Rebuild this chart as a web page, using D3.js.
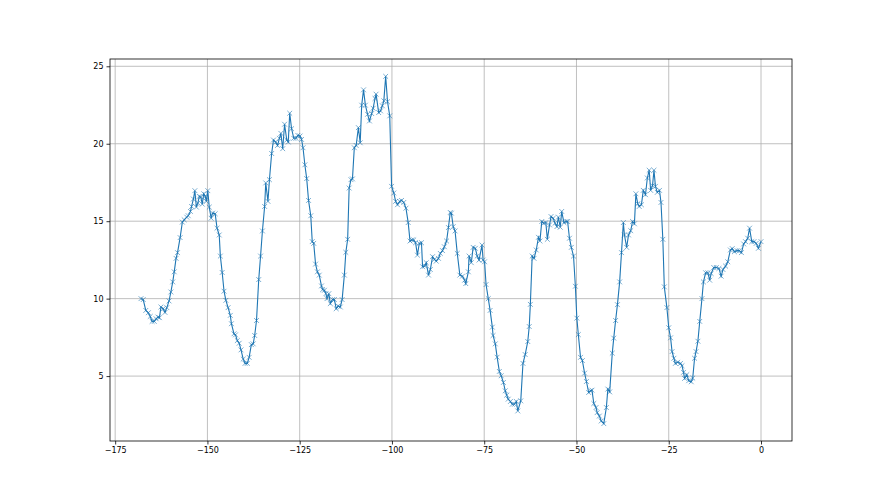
<!DOCTYPE html>
<html>
<head>
<meta charset="utf-8">
<script src="https://cdn.jsdelivr.net/npm/d3@7"></script>
<style>
  body { margin: 0; background: #fff; }
  svg { display: block; }
  .tick text { font-family: "DejaVu Sans", sans-serif; font-size: 8px; fill: #000; }
</style>
</head>
<body>
<svg id="chart" width="880" height="495"></svg>
<script>
// Hours (relative) and values
const xs = [
  -168.0,-167.4,-166.7,-166.0,-165.5,-165.0,-164.4,-163.9,-163.4,-163.0,-162.6,-162.0,-161.5,-161.0,-160.4,-159.9,-159.4,-159.0,-158.5,-158.1,
  -157.4,-156.8,-156.3,-155.6,-155.2,-154.6,-154.3,-153.8,-153.4,-153.0,-152.6,-152.2,-151.8,-151.4,-151.0,-150.6,-150.3,-149.9,-149.5,-149.0,
  -148.6,-147.9,-147.4,-146.8,-146.5,-146.0,-145.5,-145.0,-144.4,-143.8,-143.5,-142.8,-142.4,-141.9,-141.4,-140.9,-140.3,-139.8,-139.2,-138.7,
  -138.1,-137.6,-137.2,-136.7,-136.1,-135.6,-135.1,-134.5,-134.2,-133.6,-133.2,-132.6,-132.1,-131.5,-131.0,-130.5,-130.1,-129.6,-129.1,-128.5,
  -128.1,-127.7,-127.2,-126.6,-126.0,-125.5,-124.9,-124.5,-124.1,-123.6,-123.1,-122.6,-122.0,-121.6,-121.2,-120.7,-120.2,-119.7,-119.1,-118.8,
  -118.3,-117.9,-117.6,-117.1,-116.7,-116.1,-115.6,-115.1,-114.6,-114.0,-113.5,-112.9,-112.5,-112.0,-111.6,-111.1,-110.7,-110.2,-109.7,-109.1,
  -108.6,-108.2,-107.7,-107.2,-106.6,-106.1,-105.5,-105.1,-104.6,-104.3,-103.6,-103.1,-102.6,-102.2,-101.7,-101.2,-100.6,-100.1,-99.5,-99.0,
  -98.5,-97.9,-97.4,-96.8,-96.2,-95.6,-95.1,-94.6,-94.1,-93.6,-93.1,-92.6,-92.0,-91.7,-91.1,-90.7,-90.1,-89.6,-89.0,-88.5,
  -88.0,-87.4,-86.9,-86.3,-85.8,-85.2,-84.7,-84.2,-83.9,-83.4,-82.9,-82.3,-81.6,-80.9,-80.3,-80.0,-79.3,-79.1,-78.5,-78.0,
  -77.4,-76.9,-76.4,-75.6,-75.3,-74.9,-74.5,-73.9,-73.4,-72.8,-72.6,-72.0,-71.5,-70.9,-70.4,-69.8,-69.3,-68.9,-68.5,-67.9,
  -67.4,-66.8,-66.3,-65.9,-65.1,-64.5,-63.9,-63.2,-62.8,-62.5,-62.0,-61.5,-60.9,-60.3,-59.9,-59.4,-58.9,-58.3,-57.9,-57.3,
  -56.9,-56.3,-55.8,-55.3,-54.9,-54.4,-54.0,-53.4,-52.8,-52.4,-51.9,-51.4,-50.8,-50.3,-49.9,-49.5,-48.9,-48.4,-47.8,-47.3,
  -46.7,-46.2,-45.8,-45.3,-44.7,-44.4,-43.8,-43.3,-42.6,-41.9,-41.5,-41.0,-40.3,-39.9,-39.4,-38.9,-38.3,-37.8,-37.3,-37.0,
  -36.4,-35.9,-35.3,-34.8,-34.3,-33.9,-33.4,-33.0,-32.4,-31.9,-31.3,-30.8,-30.3,-29.9,-29.4,-29.0,-28.6,-28.1,-27.5,-27.1,
  -26.6,-26.2,-25.5,-25.0,-24.5,-24.1,-23.6,-23.2,-22.6,-21.8,-21.4,-21.0,-20.7,-20.1,-19.6,-18.9,-18.5,-18.0,-17.6,-17.1,
  -16.6,-16.0,-15.6,-15.0,-14.4,-13.9,-13.5,-12.8,-12.1,-11.4,-10.8,-10.3,-9.6,-9.0,-8.3,-7.8,-7.2,-6.5,-5.9,-5.3,
  -4.7,-4.2,-3.6,-3.1,-2.5,-1.9,-1.3,-0.7,0.0
];
const values = [
  10.00,9.94,9.24,9.09,8.85,8.53,8.53,8.70,8.81,8.77,9.46,9.35,9.11,9.42,9.85,10.43,11.08,11.73,12.60,12.97,
  13.94,14.94,15.09,15.26,15.35,15.63,15.95,16.43,16.97,15.91,16.17,16.60,16.56,16.10,16.77,16.60,16.28,16.97,15.91,15.19,
  15.52,15.48,14.55,14.11,12.75,11.69,10.48,9.89,9.42,8.92,8.38,7.73,7.66,7.29,7.12,6.69,6.10,5.82,5.82,6.21,
  7.03,7.08,7.62,8.59,11.23,12.75,14.37,15.95,17.47,16.28,17.68,19.37,20.24,20.11,19.89,20.35,20.67,19.68,21.26,20.24,
  20.11,21.97,20.97,20.35,20.35,20.54,20.50,20.28,19.74,18.64,17.75,16.34,15.35,13.68,13.57,12.23,11.73,11.52,10.82,10.58,
  10.54,10.32,10.00,10.32,9.68,9.94,9.94,9.35,9.52,9.46,9.94,11.52,12.99,13.83,17.14,17.68,17.73,19.74,19.89,21.04,
  20.06,22.49,23.48,22.49,21.90,21.47,21.95,22.29,22.92,23.20,22.01,22.12,22.45,22.77,24.35,22.71,21.80,17.25,16.82,16.28,
  16.06,16.28,16.34,16.21,15.84,14.91,13.72,13.79,13.79,13.61,12.81,13.57,13.61,12.06,12.10,12.32,11.52,11.88,12.71,12.53,
  12.42,12.60,12.92,13.10,13.35,13.72,14.59,15.56,15.52,14.65,14.37,12.92,11.52,11.45,11.19,10.97,11.73,12.75,12.32,13.31,
  13.25,12.75,12.49,13.46,12.49,12.38,10.91,10.00,9.24,8.16,7.62,7.08,6.22,5.30,5.02,4.59,4.05,3.77,3.51,3.36,
  3.18,3.18,3.36,2.75,3.40,5.82,6.39,7.23,8.20,9.63,12.75,12.60,13.14,13.96,13.72,14.98,14.87,14.91,13.83,14.76,
  15.30,15.19,14.87,14.65,15.26,14.61,15.63,14.91,14.98,14.98,13.90,13.31,12.75,10.80,8.74,7.68,6.21,6.00,5.19,4.65,
  3.94,4.05,4.09,3.23,2.97,2.64,2.42,2.10,1.93,2.97,4.16,3.98,6.48,7.45,8.59,9.61,11.08,12.97,14.91,14.11,
  13.31,14.11,14.39,14.98,14.83,16.77,16.13,15.95,16.06,16.99,16.71,17.79,18.29,16.99,17.29,18.29,17.25,16.86,16.99,16.21,
  13.83,10.76,9.42,8.12,7.47,6.58,6.15,5.82,5.89,5.82,5.67,5.24,4.85,5.09,4.70,4.63,4.87,6.15,6.58,7.25,
  8.53,10.00,11.08,11.67,11.67,11.19,11.62,12.01,12.01,11.95,11.45,11.88,12.10,12.38,13.14,13.23,13.03,13.10,13.10,12.97,
  13.53,13.68,13.90,14.55,13.68,13.68,13.57,13.25,13.68
];
const xTicks = [-175, -150, -125, -100, -75, -50, -25, 0];
const yTicks = [5, 10, 15, 20, 25];

const svg = d3.select("#chart");
const m = { left: 110, right: 792, top: 59, bottom: 441 };
const data = xs.map((x, i) => ({ x, y: values[i] }));

const xExt = d3.extent(xs), yExt = d3.extent(values);
const xPad = (xExt[1] - xExt[0]) * 0.05, yPad = (yExt[1] - yExt[0]) * 0.05;
const x = d3.scaleLinear().domain([xExt[0] - xPad, xExt[1] + xPad]).range([m.left, m.right]);
const y = d3.scaleLinear().domain([yExt[0] - yPad, yExt[1] + yPad]).range([m.bottom, m.top]);

// grid
const g = svg.append("g");
g.selectAll(".vg").data(xTicks).enter().append("line")
  .attr("x1", d => x(d)).attr("x2", d => x(d)).attr("y1", m.top).attr("y2", m.bottom)
  .attr("stroke", "#b0b0b0").attr("stroke-width", 0.8);
g.selectAll(".hg").data(yTicks).enter().append("line")
  .attr("y1", d => y(d)).attr("y2", d => y(d)).attr("x1", m.left).attr("x2", m.right)
  .attr("stroke", "#b0b0b0").attr("stroke-width", 0.8);

// line
svg.append("path").datum(data)
  .attr("d", d3.line().x(d => x(d.x)).y(d => y(d.y)))
  .attr("fill", "none").attr("stroke", "#1f77b4").attr("stroke-width", 1.1);

// x markers
const s = 2.4;
svg.append("g").selectAll("path").data(data).enter().append("path")
  .attr("d", d => `M${x(d.x)-s},${y(d.y)-s}L${x(d.x)+s},${y(d.y)+s}M${x(d.x)-s},${y(d.y)+s}L${x(d.x)+s},${y(d.y)-s}`)
  .attr("stroke", "#1f77b4").attr("stroke-width", 0.8).attr("opacity", 0.75);

// axes
const xAxis = d3.axisBottom(x).tickValues(xTicks).tickSize(3.5).tickPadding(3);
const yAxis = d3.axisLeft(y).tickValues(yTicks).tickSize(3.5).tickPadding(3);
const ax = svg.append("g").attr("transform", `translate(0,${m.bottom})`).call(xAxis);
const ay = svg.append("g").attr("transform", `translate(${m.left},0)`).call(yAxis);
[ax, ay].forEach(a => { a.select(".domain").remove(); a.selectAll(".tick line").attr("stroke", "#000").attr("stroke-width", 0.8); });
ax.selectAll(".tick text").text(d => d < 0 ? "\u2212" + Math.abs(d) : d);

// frame
svg.append("rect").attr("x", m.left).attr("y", m.top)
  .attr("width", m.right - m.left).attr("height", m.bottom - m.top)
  .attr("fill", "none").attr("stroke", "#000").attr("stroke-width", 0.8);
</script>
</body>
</html>
